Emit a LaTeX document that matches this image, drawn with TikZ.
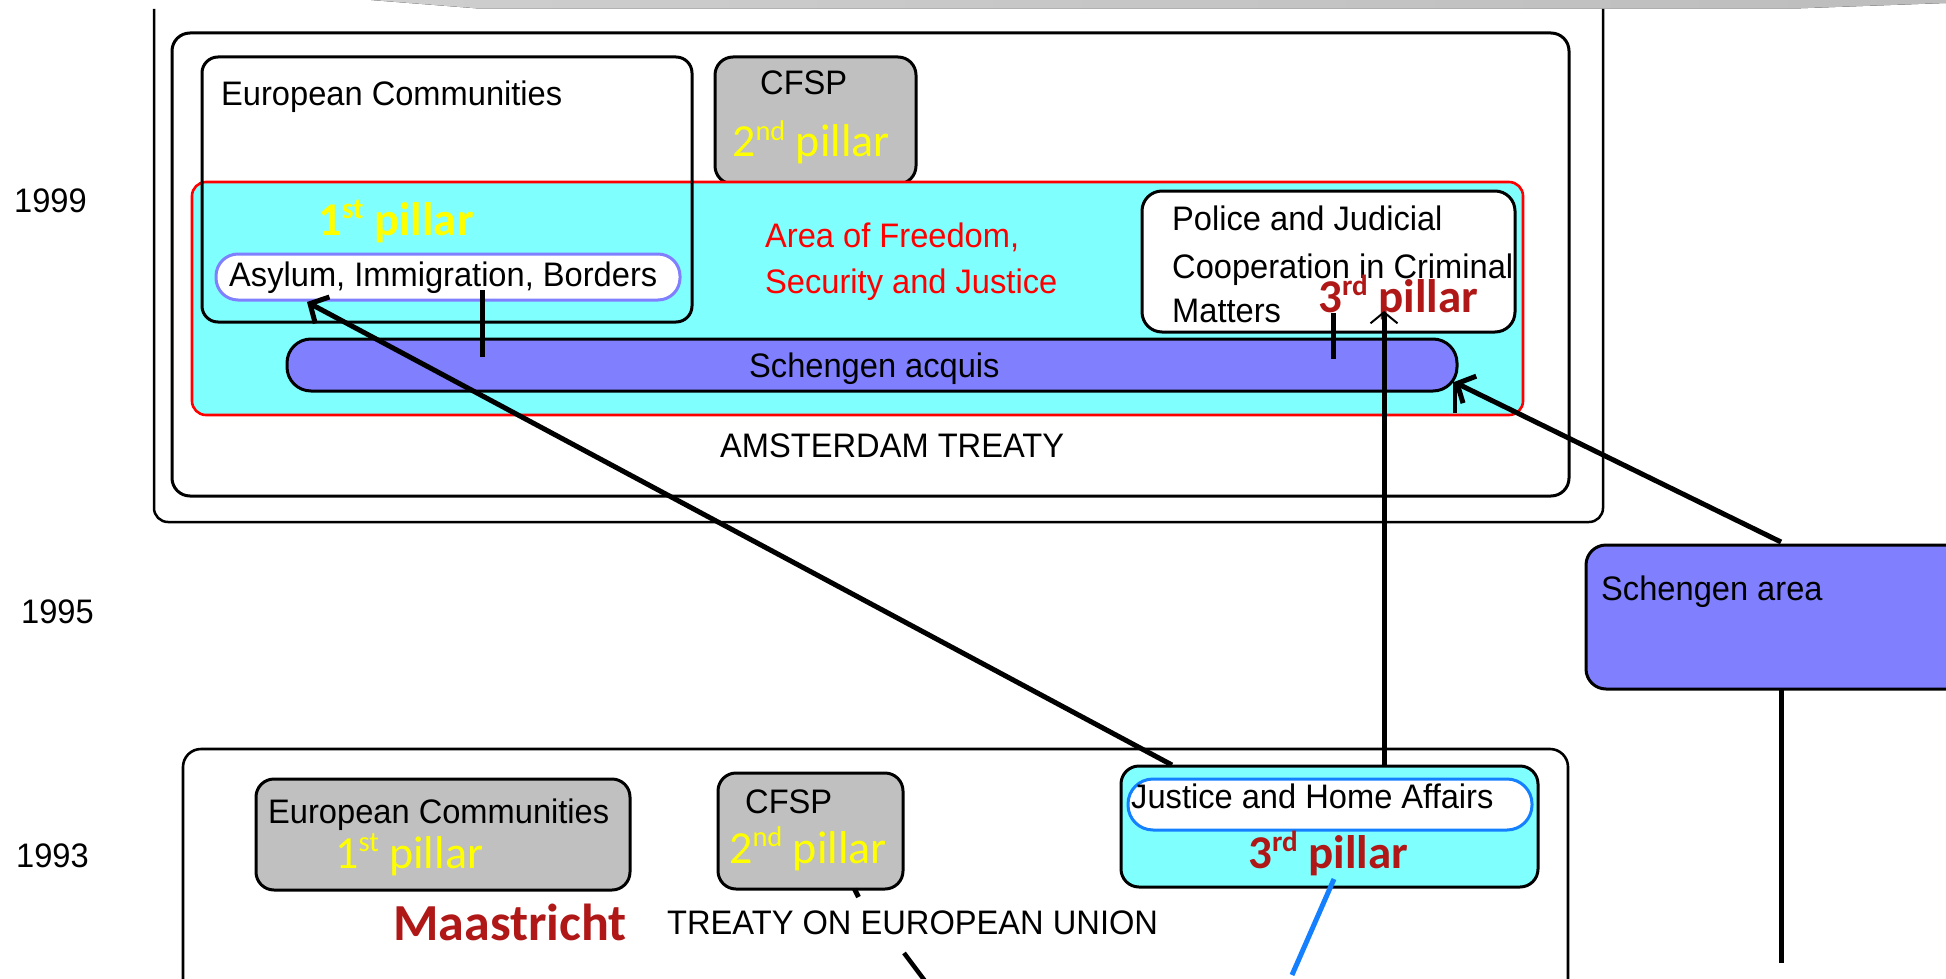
\documentclass[tikz,border=0pt]{standalone}
\usepackage{fontspec}
\setmainfont{Liberation Sans}[FakeStretch=0.96]
\newfontfamily\cali{Carlito}
\usepackage{graphicx}
\usetikzlibrary{arrows.meta,calc}
\definecolor{aqua}{RGB}{128,255,255}
\definecolor{lilac}{RGB}{128,128,255}
\definecolor{silver}{RGB}{192,192,192}
\definecolor{pillaryellow}{RGB}{255,255,0}
\definecolor{deepred}{RGB}{176,24,24}
\definecolor{linkblue}{RGB}{20,128,255}
% superscript ordinal suffix
\newcommand\ordsup[1]{\raisebox{.36em}{\scalebox{.62}{#1}}}

\begin{document}
\begin{tikzpicture}[x=1pt,y=-1pt,
  frame/.style={draw, line width=3pt, rounded corners=18pt, inner sep=0pt, outer sep=0pt},
  pill/.style={draw, line width=3pt, rounded corners=24pt, inner sep=0pt, outer sep=0pt, fill=white},
  txt/.style={inner sep=0pt, anchor=base west, font=\fontsize{34}{40}\selectfont},
  pillarlbl/.style={inner sep=0pt, anchor=base west, font=\cali\fontsize{46}{50}\selectfont, text=pillaryellow},
  pillarbold/.style={inner sep=0pt, anchor=base west, font=\cali\bfseries\fontsize{47}{50}\selectfont},
  conn/.style={line width=5pt},
  barb/.style={-{Straight Barb[length=14pt,width=30pt,line width=5pt]}}
]
\clip (0,0) rectangle (1946,979);
\fill[white] (0,0) rectangle (1946,979);

% shaded strip along the top edge
\fill[left color=black!19, middle color=black!11, right color=black!26]
  (371,0) -- (479,8.5) -- (1794,8.5) -- (1946,3) -- (1946,0) -- cycle;

% ---------------- 1999 : Amsterdam ----------------
\draw[line width=2.5pt, rounded corners=14pt] (154,9) -- (154,522) -- (1603,522) -- (1603,9);
\node[frame, minimum width=1397pt, minimum height=463pt] (ams) at (870.5,264.5) {};

\node[frame, fill=silver, minimum width=201pt, minimum height=127pt] (cfsp99) at (815.5,120.5) {};
\node[frame, draw=red, line width=2.6pt, fill=aqua, rounded corners=14pt,
      minimum width=1331pt, minimum height=233pt] (afsj) at (857.5,298.5) {};
\node[frame, rounded corners=16pt, minimum width=490pt, minimum height=265pt] (ec99) at (447,189.5) {};
\node[pill, draw=lilac, rounded corners=22pt, minimum width=464pt, minimum height=46pt] (asylum) at (448,277) {};
\node[frame, fill=white, rounded corners=20pt, minimum width=373pt, minimum height=141pt] (police) at (1328.5,261.5) {};
\node[frame, fill=lilac, rounded corners=24pt, minimum width=1170pt, minimum height=52pt] (acquis) at (872,365) {};

\node[txt] (y1999) at (14,212) {1999};
\node[txt] (ecT99) at (221,106) {European Communities};
\node[txt] (cfspT99) at (760,95) {CFSP};
\node[pillarlbl] (p2T99) at (732,157) {2\ordsup{nd} pillar};
\node[pillarbold, text=pillaryellow] (p1T99) at (318,235) {1\ordsup{st} pillar};
\node[txt] (asyT) at (229,286) {Asylum, Immigration, Borders};
\node[txt, text=red] (afsjT1) at (765,247) {Area of Freedom,};
\node[txt, text=red] (afsjT2) at (765,293) {Security and Justice};
\node[txt] (polT1) at (1172,230) {Police and Judicial};
\node[txt] (polT2) at (1172,278) {Cooperation in Criminal};
\node[txt] (polT3) at (1172,322) {Matters};
\node[pillarbold, text=deepred] (p3T99) at (1318,312) {3\ordsup{rd} pillar};
\node[txt] (acqT) at (749,377) {Schengen acquis};
\node[txt] (amsT) at (720,457) {AMSTERDAM TREATY};

% ---------------- 1995 : Schengen ----------------
\node[txt] (y1995) at (21,623) {1995};
\node[frame, fill=lilac, rounded corners=20pt, minimum width=414pt, minimum height=144pt] (scharea) at (1793,617) {};
\node[txt] (schT) at (1601,600) {Schengen area};

% ---------------- 1993 : Maastricht ----------------
\node[txt] (y1993) at (16,867) {1993};
\node[frame, line width=2.6pt, minimum width=1385pt, minimum height=251pt] (maas) at (875.5,874.5) {};
\node[frame, fill=silver, minimum width=374pt, minimum height=111pt] (ec93) at (443,834.5) {};
\node[frame, fill=silver, minimum width=185pt, minimum height=116pt] (cfsp93) at (810.5,831) {};
\node[frame, fill=aqua, minimum width=417pt, minimum height=121pt] (jha) at (1329.5,826.5) {};
\node[pill, draw=linkblue, line width=3pt, rounded corners=25pt, minimum width=404pt, minimum height=51pt] (jhapill) at (1330,804.5) {};

\node[txt] (ecT93) at (268,823) {European Communities};
\node[pillarlbl] (p1T93) at (335,868) {1\ordsup{st} pillar};
\node[txt] (cfspT93) at (745,813) {CFSP};
\node[pillarlbl] (p2T93) at (729,863) {2\ordsup{nd} pillar};
\node[txt] (jhaT) at (1131,808) {Justice and Home Affairs};
\node[pillarbold, text=deepred] (p3T93) at (1248,868) {3\ordsup{rd} pillar};
\node[inner sep=0pt, anchor=base west, font=\cali\bfseries\fontsize{52}{56}\selectfont, text=deepred] (maasT) at (393,940) {Maastricht};
\node[txt] (teuT) at (667,934) {TREATY ON EUROPEAN UNION};

% ---------------- connectors ----------------
\draw[conn] ([xshift=34pt,yshift=10pt]asylum.south) -- ([xshift=-390pt,yshift=8pt]acquis.center);
\draw[conn] ([xshift=4.5pt,yshift=19pt]police.south) -- ([xshift=461pt,yshift=6pt]acquis.center);

\draw[conn, -{Straight Barb[length=11pt,width=27pt,line width=2pt]}]
  ([xshift=54.5pt]jha.north) -- ([xshift=55.5pt,yshift=-49.5pt]police.center);
\draw[conn, barb] ([xshift=-157.5pt,yshift=1pt]jha.north) -- ([xshift=-141pt,yshift=-2pt]asylum.south);
\draw[conn, barb] ([xshift=-12pt,yshift=3pt]scharea.north) coordinate (schStart)
  -- ([xshift=-3pt,yshift=-17pt]acquis.east) coordinate (acqTip);
\draw[line width=4.5pt] ([xshift=1pt]acqTip) -- ++(0,31);

\coordinate (schEnd) at (1781,963);
\draw[conn] ([xshift=-12pt]scharea.south) -- (schEnd);

% loose connector ends
\draw[line width=5pt] ([xshift=44pt]cfsp93.south) -- ++(4,8);
\coordinate (teuLink) at (904,953);
\draw[line width=4.5pt] (teuLink) -- ++(24,32);
\draw[line width=5pt, linkblue] ([xshift=4.5pt,yshift=8pt]jha.south) -- ++(-42,96);
\end{tikzpicture}
\end{document}
